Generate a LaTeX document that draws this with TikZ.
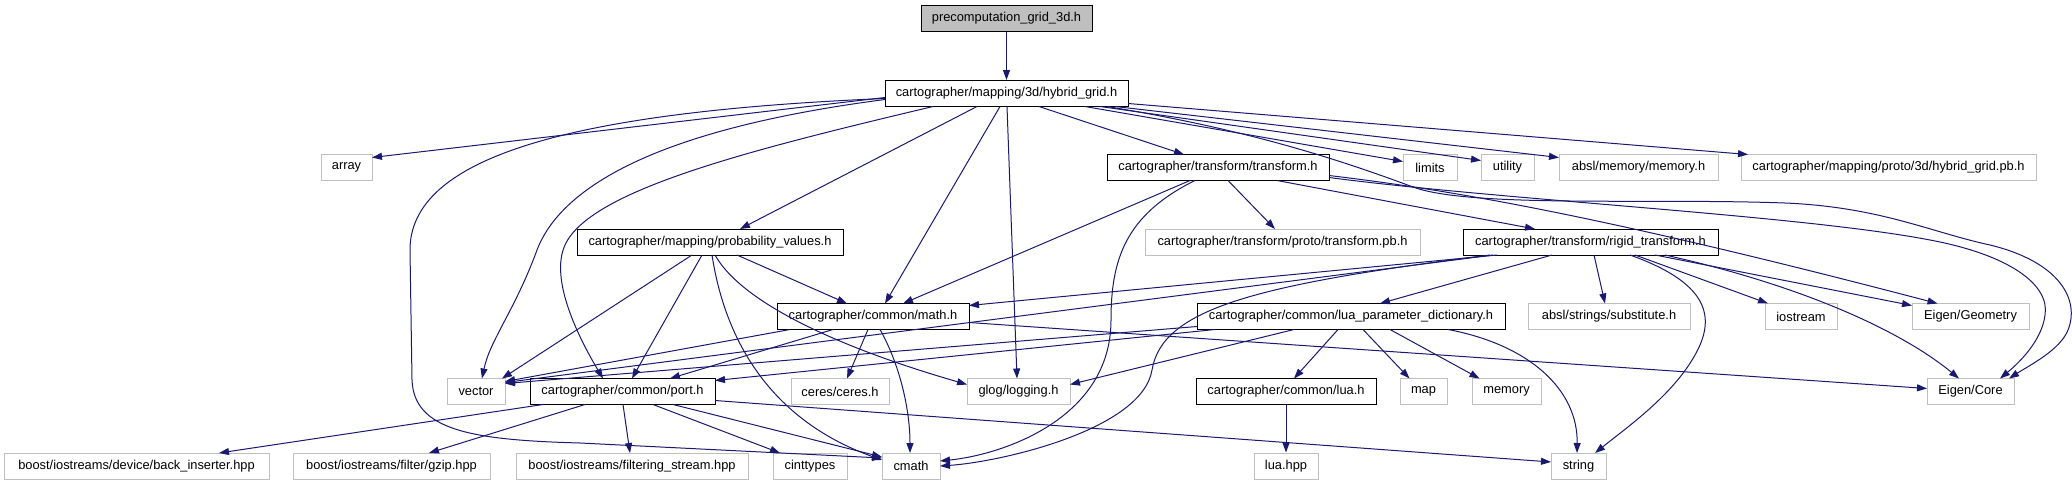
\documentclass[tikz,border=0pt]{standalone}
\usepackage{fontspec}
\setmainfont{Liberation Sans}
\usetikzlibrary{arrows.meta,calc}
\definecolor{edgecol}{HTML}{191970}
\definecolor{gbord}{HTML}{BFBFBF}
\definecolor{gfill}{HTML}{BFBFBF}
\newcommand\gfs{\fontsize{12.85}{15}\selectfont}
\tikzset{
  box/.style={rectangle, minimum height=26, inner sep=0pt, line width=1pt, font=\gfs},
  doc/.style={box, draw=black},
  ext/.style={box, draw=gbord},
  cur/.style={box, draw=black, fill=gfill},
  dep/.style={draw=edgecol, line width=1pt, -{Triangle[length=10pt,width=7pt]}},
}
\begin{document}
\begin{tikzpicture}[x=1pt,y=-1pt]
\useasboundingbox (0,0) rectangle (2072,485);
% row 0
\node[cur, minimum width=171] (top) at (1006.5,18.5) {precomputation\_grid\_3d.h};
% row 1
\node[doc, minimum width=243] (hyb) at (1006.5,93.5) {cartographer/mapping/3d/hybrid\_grid.h};
% row 2
\node[ext, minimum width=51] (arr) at (346.5,167.5) {array};
\node[doc, minimum width=222] (tr) at (1218,167.5) {cartographer/transform/transform.h};
\node[ext, minimum width=54] (lim) at (1430,167.5) {limits};
\node[ext, minimum width=53] (util) at (1507.5,167.5) {utility};
\node[ext, minimum width=159] (amem) at (1638.5,167.5) {absl/memory/memory.h};
\node[ext, minimum width=295] (hpb) at (1888.5,167.5) {cartographer/mapping/proto/3d/hybrid\_grid.pb.h};
% row 3
\node[doc, minimum width=266] (prob) at (710,242) {cartographer/mapping/probability\_values.h};
\node[ext, minimum width=275] (tpb) at (1282.5,242) {cartographer/transform/proto/transform.pb.h};
\node[doc, minimum width=255] (rig) at (1590.5,242) {cartographer/transform/rigid\_transform.h};
% row 4
\node[doc, minimum width=192] (math) at (873,316.5) {cartographer/common/math.h};
\node[doc, minimum width=308] (lpd) at (1351,316.5) {cartographer/common/lua\_parameter\_dictionary.h};
\node[ext, minimum width=162] (asub) at (1609,316.5) {absl/strings/substitute.h};
\node[ext, minimum width=72] (ios) at (1801,316.5) {iostream};
\node[ext, minimum width=117] (egeo) at (1970.5,316.5) {Eigen/Geometry};
% row 5
\node[ext, minimum width=58] (vec) at (476,391.5) {vector};
\node[doc, minimum width=185] (port) at (622.5,391.5) {cartographer/common/port.h};
\node[ext, minimum width=98] (ceres) at (840,391.5) {ceres/ceres.h};
\node[ext, minimum width=103] (glog) at (1018.5,391.5) {glog/logging.h};
\node[doc, minimum width=180] (lua) at (1286,391.5) {cartographer/common/lua.h};
\node[ext, minimum width=47] (map) at (1423.5,391.5) {map};
\node[ext, minimum width=69] (mem) at (1506.5,391.5) {memory};
\node[ext, minimum width=87] (ecore) at (1970.5,391.5) {Eigen/Core};
% row 6
\node[ext, minimum width=265] (bins) at (136.5,466) {boost/iostreams/device/back\_inserter.hpp};
\node[ext, minimum width=197] (gzip) at (391.5,466) {boost/iostreams/filter/gzip.hpp};
\node[ext, minimum width=232] (fstr) at (632,466) {boost/iostreams/filtering\_stream.hpp};
\node[ext, minimum width=74] (cint) at (810,466) {cinttypes};
\node[ext, minimum width=58] (cmath) at (911,466) {cmath};
\node[ext, minimum width=64] (luahpp) at (1286,466) {lua.hpp};
\node[ext, minimum width=55] (str) at (1578.5,466) {string};

% edges from top
\draw[dep] (top) -- (hyb);
% edges from hybrid_grid.h
\draw[dep] ($(hyb)+(-121.5,4)$) -- ($(arr)+(25.5,-10)$);
\draw[dep] ($(hyb)+(-121.5,5)$) .. controls (560,112) and (410,160) .. (410,250) -- (412,380) .. controls (414,430) and (470,440) .. (580,443) -- ($(cmath)+(-29,-8)$);
\draw[dep] ($(hyb)+(-121.5,6)$) .. controls (650,130) and (560,190) .. (537,250) .. controls (515,310) and (490,340) .. ($(vec)+(6,-13)$);
\draw[dep] ($(hyb)+(-73.5,13)$) .. controls (750,150) and (590,190) .. (565,245) .. controls (549,280) and (580,340) .. ($(port)+(-19.5,-13)$);
\draw[dep] ($(hyb)+(-29.5,13)$) -- ($(prob)+(30,-13)$);
\draw[dep] ($(hyb)+(-6.5,13)$) -- ($(math)+(12,-13)$);
\draw[dep] ($(hyb)+(0.5,13)$) -- ($(glog)+(-1.5,-13)$);
\draw[dep] ($(hyb)+(32.5,13)$) -- ($(tr)+(-34,-13)$);
\draw[dep] ($(hyb)+(78.5,13)$) -- ($(lim)+(-27,-6)$);
\draw[dep] ($(hyb)+(93.5,13)$) -- ($(util)+(-26.5,-7)$);
\draw[dep] ($(hyb)+(108.5,13)$) -- ($(amem)+(-79.5,-10)$);
\draw[dep] ($(hyb)+(121.5,10)$) -- ($(hpb)+(-140.5,-13)$);
\draw[dep] ($(hyb)+(100.5,13)$) .. controls (1250,130) and (1340,160) .. (1413,187) .. controls (1470,208) and (1650,198) .. (1785,203) .. controls (1880,207) and (1930,232) .. (1990,245) .. controls (2060,262) and (2080,300) .. (2068,330) .. controls (2060,350) and (2030,365) .. ($(ecore)+(38.5,-13)$);
% edges from transform.h
\draw[dep] ($(tr)+(111,10)$) .. controls (1500,200) and (1800,215) .. (1930,240) .. controls (2010,255) and (2050,285) .. (2045,315) .. controls (2042,340) and (2020,362) .. ($(ecore)+(29.5,-13)$);
\draw[dep] ($(tr)+(111,8)$) .. controls (1450,190) and (1600,215) .. ($(egeo)+(-33,-13)$);
\draw[dep] ($(tr)+(-28,13)$) -- ($(math)+(30,-13)$);
\draw[dep] ($(tr)+(-23,13)$) .. controls (1125,215) and (1111,260) .. (1111,320) .. controls (1111,420) and (1000,455) .. ($(cmath)+(29,-5)$);
\draw[dep] ($(tr)+(10,13)$) -- ($(tpb)+(-7.5,-13)$);
\draw[dep] ($(tr)+(59,13)$) -- ($(rig)+(-55.5,-13)$);
% edges from rigid_transform.h
\draw[dep] ($(rig)+(-93.5,13)$) -- ($(math)+(96,-11)$);
\draw[dep] ($(rig)+(-97.5,13)$) -- ($(vec)+(29,-9)$);
\draw[dep] ($(rig)+(-100.5,13)$) .. controls (1250,285) and (1162,310) .. (1152,370) .. controls (1142,430) and (1000,462) .. ($(cmath)+(29,0)$);
\draw[dep] ($(rig)+(-38.5,13)$) -- ($(lpd)+(29,-13)$);
\draw[dep] ($(rig)+(3.5,13)$) -- ($(asub)+(-4,-13)$);
\draw[dep] ($(rig)+(39.5,13)$) .. controls (1700,280) and (1715,310) .. (1700,345) .. controls (1680,390) and (1630,425) .. ($(str)+(16.5,-13)$);
\draw[dep] ($(rig)+(44.5,13)$) -- ($(ios)+(-33,-13)$);
\draw[dep] ($(rig)+(64.5,13)$) -- ($(egeo)+(-58.5,-11)$);
\draw[dep] ($(rig)+(74.5,13)$) .. controls (1800,285) and (1900,330) .. ($(ecore)+(-11.5,-13)$);
% edges from lua_parameter_dictionary.h
\draw[dep] ($(lpd)+(-154,10)$) -- ($(vec)+(29,-8)$);
\draw[dep] ($(lpd)+(-136,13)$) -- ($(port)+(92.5,-11)$);
\draw[dep] ($(lpd)+(-57,13)$) -- ($(glog)+(51.5,-7)$);
\draw[dep] ($(lpd)+(-13,13)$) -- ($(lua)+(8,-13)$);
\draw[dep] ($(lpd)+(12,13)$) -- ($(map)+(-14,-13)$);
\draw[dep] ($(lpd)+(39,13)$) -- ($(mem)+(-27,-13)$);
\draw[dep] ($(lpd)+(97,13)$) .. controls (1530,345) and (1578,390) .. ($(str)+(-1.5,-13)$);
% edges from probability_values.h
\draw[dep] ($(prob)+(27,13)$) -- ($(math)+(-26,-13)$);
\draw[dep] ($(prob)+(-18,13)$) -- ($(vec)+(26,-13)$);
\draw[dep] ($(prob)+(-8,13)$) -- ($(port)+(9.5,-13)$);
\draw[dep] ($(prob)+(2,13)$) .. controls (725,340) and (770,420) .. ($(cmath)+(-29,-6)$);
\draw[dep] ($(prob)+(5,13)$) .. controls (740,300) and (830,345) .. ($(glog)+(-51.5,-7)$);
% edges from math.h
\draw[dep] ($(math)+(-83,13)$) -- ($(vec)+(29,-10)$);
\draw[dep] ($(math)+(-40,13)$) -- ($(port)+(47.5,-13)$);
\draw[dep] ($(math)+(-5,13)$) -- ($(ceres)+(7,-13)$);
\draw[dep] ($(math)+(7,13)$) .. controls (900,365) and (910,410) .. ($(cmath)+(-1,-13)$);
\draw[dep] ($(math)+(96,6)$) -- ($(ecore)+(-43.5,-3)$);
% edges from port.h
\draw[dep] ($(port)+(-79.5,13)$) -- ($(bins)+(82.5,-13)$);
\draw[dep] ($(port)+(-37.5,13)$) -- ($(gzip)+(37.5,-13)$);
\draw[dep] ($(port)+(0.5,13)$) -- ($(fstr)+(-2,-13)$);
\draw[dep] ($(port)+(30.5,13)$) -- ($(cint)+(-30,-13)$);
\draw[dep] ($(port)+(50.5,13)$) -- ($(cmath)+(-29,-9)$);
\draw[dep] ($(port)+(92.5,9)$) -- ($(str)+(-27.5,-4)$);
% edges from lua.h
\draw[dep] (lua) -- (luahpp);
\end{tikzpicture}
\end{document}
